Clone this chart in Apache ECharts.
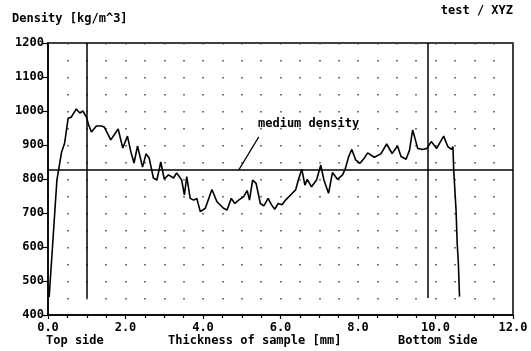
<!DOCTYPE html>
<html>
<head>
    <meta charset="utf-8">
    <title>Density profile</title>
    <script src="https://cdn.jsdelivr.net/npm/echarts@6/dist/echarts.min.js"></script>
    <style>
        html, body { margin: 0; padding: 0; background: #fff; }
        #chart { width: 531px; height: 351px; }
    </style>
</head>
<body>
<div id="chart"></div>
<script type="text/javascript">
    // sample thickness [mm] and density [kg/m^3]
    var thickness = [0.03, 0.23, 0.35, 0.43, 0.52, 0.60, 0.73, 0.82, 0.90, 0.99,
        1.05, 1.12, 1.25, 1.38, 1.45, 1.62, 1.81, 1.93, 2.05, 2.14,
        2.22, 2.31, 2.44, 2.53, 2.61, 2.72, 2.81, 2.91, 3.00, 3.11,
        3.24, 3.32, 3.45, 3.52, 3.58, 3.67, 3.76, 3.84, 3.93, 4.06,
        4.23, 4.36, 4.53, 4.62, 4.73, 4.82, 4.92, 5.05, 5.14, 5.20,
        5.28, 5.37, 5.48, 5.57, 5.68, 5.77, 5.85, 5.94, 6.04, 6.13,
        6.26, 6.39, 6.46, 6.55, 6.63, 6.69, 6.80, 6.93, 7.04, 7.12,
        7.24, 7.34, 7.47, 7.60, 7.67, 7.76, 7.84, 7.94, 8.05, 8.16,
        8.25, 8.42, 8.59, 8.74, 8.88, 9.02, 9.11, 9.24, 9.33, 9.41,
        9.46, 9.54, 9.67, 9.78, 9.89, 10.03, 10.21, 10.32, 10.41, 10.45,
        10.47, 10.53, 10.56, 10.59, 10.62];
    var density = [453, 797, 879, 906, 979, 982, 1006, 994, 1000, 982,
        959, 938, 956, 956, 953, 915, 947, 891, 926, 879,
        847, 897, 835, 874, 862, 803, 797, 850, 800, 812,
        803, 818, 797, 753, 807, 743, 738, 743, 704, 714,
        769, 733, 714, 709, 743, 728, 738, 748, 766, 738,
        797, 787, 728, 721, 743, 724, 711, 728, 724, 738,
        753, 768, 797, 829, 782, 799, 777, 797, 841, 797,
        758, 819, 799, 812, 829, 866, 887, 856, 846, 861,
        877, 864, 874, 903, 875, 897, 866, 858, 885, 944,
        924, 890, 887, 890, 910, 890, 926, 895, 887, 895,
        826, 709, 611, 552, 454];

    // side markers (top / bottom side) and the medium density
    var sideLines = [1.0, 9.8];
    var sideLineFrom = 450;
    var mediumDensity = 826;
    var pointerFrom = [4.92, 826];
    var pointerTo = [5.44, 924];

    var xTickLabels = {0: '0.0', 2: '2.0', 4: '4.0', 6: '6.0', 8: '8.0', 10: '10.0', 12: '12.0'};

    var font = '"DejaVu Sans Mono", monospace';

    var points = [];
    for (var i = 0; i < thickness.length; i++) {
        points.push([thickness[i], density[i]]);
    }

    var markData = [];
    sideLines.forEach(function (x) {
        markData.push([{coord: [x, sideLineFrom]}, {coord: [x, 1200]}]);
    });
    markData.push({yAxis: mediumDensity});
    markData.push([{coord: pointerFrom, lineStyle: {width: 1.2}}, {coord: pointerTo}]);

    var myChart = echarts.init(document.getElementById('chart'));

    function txt(x, y, s, align) {
        return {
            type: 'text', x: x, y: y, silent: true,
            style: {
                text: s, fill: '#000', font: 'bold 12px ' + font,
                align: align || 'left', verticalAlign: 'middle'
            }
        };
    }

    myChart.setOption({
        animation: false,
        backgroundColor: '#fff',
        grid: {
            left: 48, right: 18, top: 43, bottom: 36,
            show: true, borderColor: '#000', borderWidth: 1.5,
            backgroundColor: 'transparent'
        },
        xAxis: {
            type: 'value', min: 0, max: 12, interval: 2,
            axisLine: {lineStyle: {color: '#000', width: 1.5}},
            axisTick: {show: true, length: 4, lineStyle: {color: '#000', width: 1.2}},
            minorTick: {show: true, splitNumber: 4, length: 3, lineStyle: {color: '#000', width: 1.2}},
            axisLabel: {
                margin: 7, color: '#000', fontFamily: font, fontWeight: 'bold', fontSize: 12,
                formatter: function (v) { return xTickLabels[v] || ''; }
            },
            splitLine: {show: true, lineStyle: {color: '#444', width: 1.5, type: [1.5, 15.5]}},
            minorSplitLine: {show: true, lineStyle: {color: '#444', width: 1.5, type: [1.5, 15.5]}}
        },
        yAxis: {
            type: 'value', min: 400, max: 1200, interval: 100,
            axisLine: {show: true, lineStyle: {color: '#000', width: 1.5}},
            axisTick: {show: true, length: 6, lineStyle: {color: '#000', width: 1.2}},
            axisLabel: {
                margin: 4, color: '#000', fontFamily: font, fontWeight: 'bold', fontSize: 12,
                formatter: function (v) { return String(v); }
            },
            splitLine: {show: false}
        },
        series: [{
            type: 'line',
            data: points,
            symbol: 'none',
            lineStyle: {color: '#000', width: 1.6},
            markLine: {
                silent: true,
                symbol: 'none',
                label: {show: false},
                lineStyle: {color: '#000', width: 1.5, type: 'solid'},
                data: markData
            }
        }],
        graphic: [
            txt(12, 19, 'Density [kg/m^3]'),
            txt(513, 11, 'test / XYZ', 'right'),
            txt(258, 124, 'medium density'),
            txt(46, 341, 'Top side'),
            txt(168, 341, 'Thickness of sample [mm]'),
            txt(398, 341, 'Bottom Side')
        ]
    });
</script>
</body>
</html>
